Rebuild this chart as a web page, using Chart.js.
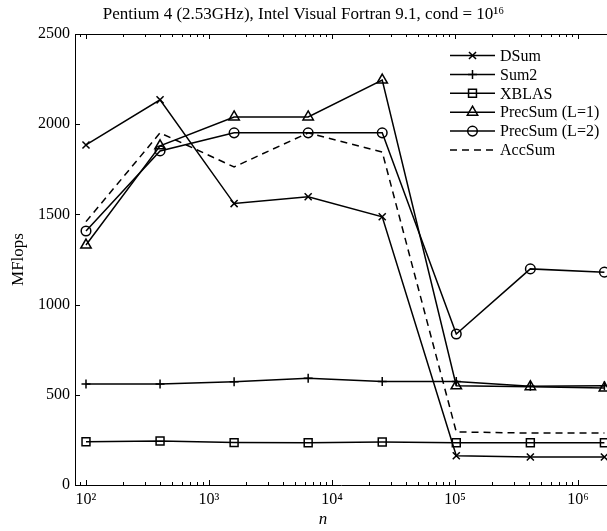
<!DOCTYPE html>
<html>
<head>
<meta charset="utf-8">
<script src="https://cdn.jsdelivr.net/npm/chart.js@4.4.0/dist/chart.umd.min.js"></script>
<style>
  html, body { margin: 0; padding: 0; background: #fff; }
  #grafico { display: block; }
</style>
</head>
<body>
<canvas id="grafico" width="607" height="531"></canvas>
<script>
// tamanhos do problema
var n = [100, 400, 1600, 6400, 25600, 102400, 409600, 1638400]

// MFlops
var dsum   = [1885, 2135, 1560, 1598, 1487, 162, 155, 155]
var sum2   = [560, 560, 572, 592, 574, 574, 548, 550]
var xblas  = [240, 244, 235, 234, 238, 234, 234, 234]
var prec1  = [1330, 1880, 2040, 2040, 2245, 550, 545, 538]
var prec2  = [1408, 1852, 1952, 1952, 1952, 837, 1198, 1180]
var accsum = [1460, 1952, 1763, 1952, 1846, 294, 288, 288]

var nomes = ['DSum', 'Sum2', 'XBLAS', 'PrecSum (L=1)', 'PrecSum (L=2)', 'AccSum']
var yTicks = [0, 500, 1000, 1500, 2000, 2500]
var xDecadas = [2, 3, 4, 5, 6]
var titulo = 'Pentium 4 (2.53GHz), Intel Visual Fortran 9.1, cond = 10\u00b9\u2076'

var sup = { 2: '\u00b2', 3: '\u00b3', 4: '\u2074', 5: '\u2075', 6: '\u2076' }
var fonte = '"Liberation Serif", "Times New Roman", serif'

function pontos(valores) {
    var lista = []
    for (let i = 0; i < n.length; i++) {
        lista.push({ x: n[i], y: valores[i] })
    }
    return lista
}

function serie(label, valores, estilo, raio, tracejado) {
    return {
        label: label,
        data: pontos(valores),
        borderColor: '#000',
        backgroundColor: 'rgba(0,0,0,0)',
        borderWidth: 1.5,
        borderDash: tracejado ? [7, 5] : [],
        pointStyle: estilo,
        pointRadius: estilo ? raio : 0,
        pointBorderWidth: 1.5,
        pointBorderColor: '#000',
        pointBackgroundColor: 'rgba(0,0,0,0)',
        tension: 0,
        clip: false
    }
}

var dados = {
    datasets: [
        serie(nomes[0], dsum, 'crossRot', 5, false),
        serie(nomes[1], sum2, 'cross', 4.5, false),
        serie(nomes[2], xblas, 'rect', 5.6, false),
        serie(nomes[3], prec1, 'triangle', 6, false),
        serie(nomes[4], prec2, 'circle', 4.8, false),
        serie(nomes[5], accsum, false, 0, true)
    ]
}

function marcador(ctx, estilo, r, x, y) {
    ctx.beginPath()
    if (estilo == 'crossRot') {
        var d = Math.SQRT1_2 * r
        ctx.moveTo(x - d, y - d); ctx.lineTo(x + d, y + d)
        ctx.moveTo(x - d, y + d); ctx.lineTo(x + d, y - d)
    } else if (estilo == 'cross') {
        ctx.moveTo(x, y - r); ctx.lineTo(x, y + r)
        ctx.moveTo(x - r, y); ctx.lineTo(x + r, y)
    } else if (estilo == 'rect') {
        var s = Math.SQRT1_2 * r
        ctx.rect(x - s, y - s, 2 * s, 2 * s)
    } else if (estilo == 'triangle') {
        ctx.moveTo(x, y - r)
        ctx.lineTo(x + Math.sin(2 * Math.PI / 3) * r, y + r / 2)
        ctx.lineTo(x - Math.sin(2 * Math.PI / 3) * r, y + r / 2)
        ctx.closePath()
    } else if (estilo == 'circle') {
        ctx.arc(x, y, r, 0, 2 * Math.PI)
    }
    ctx.stroke()
}

var enfeites = {
    id: 'enfeites',
    afterDatasetsDraw: function(chart) {
        var ctx = chart.ctx
        var area = chart.chartArea
        var sx = chart.scales.x
        var sy = chart.scales.y
        ctx.save()
        ctx.strokeStyle = '#000'
        ctx.lineWidth = 1
        ctx.setLineDash([])

        // moldura de cima
        ctx.beginPath()
        ctx.moveTo(area.left, area.top + 0.5)
        ctx.lineTo(area.right, area.top + 0.5)
        ctx.stroke()

        // ticks do eixo x (para dentro, em baixo e em cima)
        for (let k = 1; k <= 6; k++) {
            for (let m = 1; m <= 9; m++) {
                var v = m * Math.pow(10, k)
                if (v < sx.min || v > sx.max) continue
                var px = Math.round(sx.getPixelForValue(v)) + 0.5
                var tam = m == 1 ? 5 : 3
                ctx.beginPath()
                ctx.moveTo(px, area.bottom)
                ctx.lineTo(px, area.bottom - tam)
                ctx.moveTo(px, area.top)
                ctx.lineTo(px, area.top + tam)
                ctx.stroke()
            }
        }
        // ticks do eixo y
        for (let i = 0; i < yTicks.length; i++) {
            var py = Math.round(sy.getPixelForValue(yTicks[i])) + 0.5
            ctx.beginPath()
            ctx.moveTo(area.left, py)
            ctx.lineTo(area.left + 5, py)
            ctx.stroke()
        }

        // legenda
        ctx.font = '16px ' + fonte
        ctx.fillStyle = '#000'
        ctx.textBaseline = 'middle'
        ctx.textAlign = 'left'
        var ds = chart.data.datasets
        for (let i = 0; i < ds.length; i++) {
            var yy = area.top + 21.5 + i * 18.9
            var x1 = area.right - 157
            var x2 = area.right - 112
            ctx.lineWidth = ds[i].borderWidth
            ctx.setLineDash(ds[i].borderDash)
            ctx.beginPath()
            ctx.moveTo(x1, yy)
            ctx.lineTo(x2, yy)
            ctx.stroke()
            ctx.setLineDash([])
            if (ds[i].pointStyle) {
                ctx.lineWidth = ds[i].pointBorderWidth
                marcador(ctx, ds[i].pointStyle, ds[i].pointRadius, (x1 + x2) / 2, yy)
            }
            ctx.fillText(ds[i].label, area.right - 107, yy + 1)
        }

        // rotulo do eixo x
        ctx.font = 'italic 17px ' + fonte
        ctx.textAlign = 'center'
        ctx.fillText('n', area.left + 248, area.bottom + 35)
        ctx.restore()
    }
}

var ctx = document.getElementById('grafico')

var grafico = new Chart(ctx, {
    type: 'line',
    data: dados,
    plugins: [enfeites],
    options: {
        responsive: false,
        animation: false,
        devicePixelRatio: 1,
        layout: { autoPadding: false, padding: 0 },
        scales: {
            x: {
                type: 'logarithmic',
                min: 81.4,
                max: 1.72e6,
                grid: { display: false, drawTicks: false },
                border: { display: true, color: '#000', width: 1 },
                afterBuildTicks: function(scale) {
                    scale.ticks = xDecadas.map(function(k) { return { value: Math.pow(10, k) } })
                },
                afterFit: function(scale) { scale.height = 46 },
                ticks: {
                    color: '#000',
                    padding: 5,
                    maxRotation: 0,
                    autoSkip: false,
                    font: { family: fonte, size: 16 },
                    callback: function(valor) {
                        var k = Math.round(Math.log10(valor))
                        return '10' + sup[k]
                    }
                }
            },
            y: {
                min: 0,
                max: 2500,
                grid: { display: false, drawTicks: false },
                border: { display: true, color: '#000', width: 1 },
                afterBuildTicks: function(scale) {
                    scale.ticks = yTicks.map(function(v) { return { value: v } })
                },
                afterFit: function(scale) { scale.width = 75 },
                ticks: {
                    color: '#000',
                    padding: 5,
                    font: { family: fonte, size: 16 },
                    callback: function(valor) { return String(valor) }
                },
                title: {
                    display: true,
                    text: 'MFlops',
                    color: '#000',
                    font: { family: fonte, size: 17 },
                    padding: { top: 8, bottom: 0 }
                }
            }
        },
        plugins: {
            legend: { display: false },
            tooltip: { enabled: false },
            title: {
                display: true,
                text: titulo,
                color: '#000',
                font: { family: fonte, size: 17, weight: 'normal', lineHeight: 1.2 },
                padding: { top: 4, bottom: 9.6 }
            }
        }
    }
});
</script>
</body>
</html>
